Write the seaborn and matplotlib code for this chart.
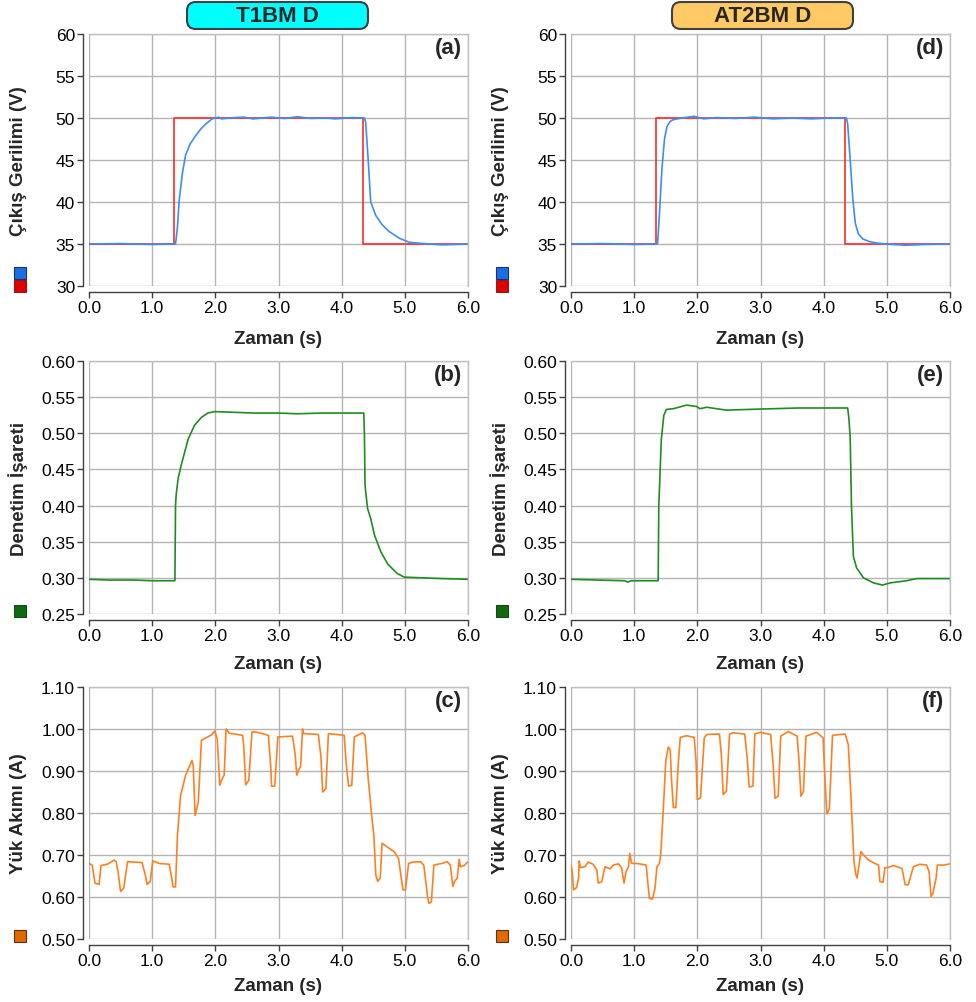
import numpy as np
import pandas as pd
import matplotlib.pyplot as plt
import seaborn as sns
from matplotlib.patches import FancyBboxPatch

# Reference voltage (step)
ref_t = [0.0, 1.35, 1.35, 4.34, 4.34, 6.0]
ref_v = [35, 35, 50, 50, 35, 35]

# (a) T1BMD output voltage
va_t = [0.0, 0.5, 1.0, 1.37, 1.40, 1.43, 1.48, 1.53, 1.60, 1.69, 1.77, 1.85, 1.95, 2.05, 2.1, 2.3, 2.45, 2.6, 2.88, 3.1,
        3.3, 3.5, 3.75, 3.9, 4.17, 4.36, 4.38, 4.42, 4.46, 4.50, 4.54, 4.64, 4.75, 4.91, 5.07, 5.3, 5.6, 6.0]
va_v = [35.0, 35.05, 34.95, 35.0, 37.0, 40.4, 43.5, 45.6, 46.9, 47.9, 48.7, 49.3, 49.9, 50.1, 49.9, 50.05, 50.1, 49.9, 50.1, 49.95,
        50.15, 49.95, 50.0, 49.9, 50.05, 50.0, 49.5, 45.0, 40.0, 39.2, 38.4, 37.3, 36.5, 35.7, 35.2, 35.05, 34.9, 35.0]

# (d) AT2BMD output voltage
vd_t = [0.0, 0.5, 1.0, 1.37, 1.40, 1.44, 1.48, 1.52, 1.57, 1.62, 1.75, 1.95, 2.1, 2.3, 2.6, 2.9, 3.2, 3.5, 3.8, 4.1,
        4.36, 4.38, 4.42, 4.46, 4.50, 4.55, 4.62, 4.72, 4.85, 5.0, 5.3, 5.6, 6.0]
vd_v = [35.0, 35.05, 34.95, 35.0, 38.5, 44.0, 47.5, 49.0, 49.6, 49.8, 50.0, 50.2, 49.9, 50.05, 49.95, 50.1, 49.9, 50.0, 49.9, 50.0,
        50.0, 49.3, 45.0, 40.5, 37.5, 36.2, 35.6, 35.3, 35.1, 35.0, 34.85, 34.95, 35.0]

# (b) T1BMD control signal
ub_t = [0.0, 0.3, 0.7, 1.0, 1.36, 1.37, 1.38, 1.41, 1.46, 1.57, 1.67, 1.78, 1.88, 1.99, 2.3, 2.6, 3.0, 3.3, 3.7, 4.0,
        4.35, 4.36, 4.37, 4.41, 4.46, 4.52, 4.62, 4.73, 4.88, 4.99, 5.3, 5.6, 6.0]
ub_v = [0.298, 0.297, 0.297, 0.296, 0.296, 0.400, 0.415, 0.437, 0.456, 0.492, 0.511, 0.522, 0.528, 0.530, 0.529, 0.528, 0.528, 0.527, 0.528, 0.528,
        0.528, 0.500, 0.428, 0.396, 0.382, 0.359, 0.336, 0.319, 0.306, 0.301, 0.300, 0.299, 0.298]

# (e) AT2BMD control signal
ue_t = [0.0, 0.4, 0.85, 0.9, 0.95, 1.38, 1.39, 1.43, 1.47, 1.51, 1.62, 1.83, 1.99, 2.04, 2.15, 2.46, 2.8, 3.2, 3.6, 4.0,
        4.38, 4.40, 4.42, 4.44, 4.47, 4.52, 4.63, 4.79, 4.93, 5.05, 5.31, 5.47, 6.0]
ue_v = [0.298, 0.297, 0.296, 0.294, 0.296, 0.296, 0.400, 0.492, 0.525, 0.533, 0.534, 0.539, 0.537, 0.534, 0.536, 0.532, 0.533, 0.534, 0.535, 0.535,
        0.535, 0.520, 0.494, 0.400, 0.330, 0.314, 0.300, 0.293, 0.290, 0.293, 0.296, 0.299, 0.299]

# (c) T1BMD load current
ic_t = [0.0, 0.05, 0.095, 0.16, 0.19, 0.29, 0.40, 0.43, 0.46, 0.50, 0.55, 0.61, 0.84, 0.89, 0.92, 0.97, 1.01, 1.11, 1.27, 1.31,
        1.33, 1.37, 1.40, 1.45, 1.53, 1.63, 1.65, 1.68, 1.73, 1.78, 1.85, 1.93, 1.99, 2.03, 2.07, 2.11, 2.14, 2.17, 2.22, 2.43,
        2.45, 2.48, 2.53, 2.58, 2.64, 2.84, 2.88, 2.89, 2.94, 2.99, 3.22, 3.26, 3.29, 3.33, 3.35, 3.38, 3.40, 3.63, 3.67, 3.70,
        3.75, 3.79, 4.04, 4.07, 4.11, 4.16, 4.20, 4.33, 4.37, 4.42, 4.48, 4.51, 4.54, 4.57, 4.61, 4.64, 4.75, 4.83, 4.90, 4.93,
        4.97, 5.01, 5.06, 5.12, 5.25, 5.30, 5.36, 5.38, 5.42, 5.46, 5.59, 5.67, 5.72, 5.76, 5.79, 5.83, 5.86, 5.88, 5.94, 6.0]
ic_v = [0.680, 0.676, 0.633, 0.630, 0.675, 0.678, 0.688, 0.684, 0.660, 0.613, 0.621, 0.684, 0.682, 0.653, 0.630, 0.637, 0.686, 0.680, 0.678, 0.645,
        0.624, 0.624, 0.747, 0.842, 0.890, 0.925, 0.913, 0.794, 0.826, 0.973, 0.979, 0.985, 0.995, 0.977, 0.866, 0.882, 0.890, 1.000, 0.990, 0.985,
        0.960, 0.867, 0.878, 0.993, 0.993, 0.985, 0.905, 0.864, 0.864, 0.981, 0.983, 0.945, 0.890, 0.906, 0.910, 1.000, 0.989, 0.987, 0.937, 0.850,
        0.858, 0.989, 0.985, 0.921, 0.864, 0.866, 0.981, 0.991, 0.985, 0.882, 0.787, 0.747, 0.653, 0.637, 0.645, 0.728, 0.716, 0.708, 0.692, 0.660,
        0.617, 0.617, 0.680, 0.683, 0.684, 0.676, 0.601, 0.585, 0.588, 0.676, 0.680, 0.684, 0.676, 0.625, 0.638, 0.645, 0.690, 0.672, 0.675, 0.684]

# (f) AT2BMD load current
if_t = [0.0, 0.02, 0.04, 0.09, 0.12, 0.13, 0.15, 0.22, 0.27, 0.35, 0.41, 0.43, 0.49, 0.52, 0.54, 0.62, 0.67, 0.75, 0.80, 0.84,
        0.87, 0.91, 0.93, 0.96, 1.04, 1.19, 1.21, 1.24, 1.29, 1.33, 1.36, 1.40, 1.42, 1.46, 1.50, 1.54, 1.57, 1.59, 1.62, 1.66,
        1.70, 1.73, 1.83, 1.95, 1.98, 2.00, 2.05, 2.11, 2.15, 2.35, 2.38, 2.41, 2.46, 2.51, 2.57, 2.75, 2.79, 2.82, 2.88, 2.91,
        2.99, 3.16, 3.20, 3.23, 3.28, 3.32, 3.44, 3.58, 3.61, 3.64, 3.68, 3.72, 3.89, 3.99, 4.02, 4.05, 4.09, 4.14, 4.34, 4.39,
        4.43, 4.48, 4.51, 4.53, 4.56, 4.59, 4.63, 4.71, 4.81, 4.87, 4.89, 4.94, 4.97, 5.02, 5.10, 5.24, 5.29, 5.34, 5.42, 5.52,
        5.63, 5.67, 5.70, 5.73, 5.78, 5.80, 5.90, 6.0]
if_v = [0.676, 0.660, 0.617, 0.623, 0.645, 0.686, 0.670, 0.672, 0.683, 0.678, 0.664, 0.633, 0.637, 0.660, 0.672, 0.667, 0.676, 0.679, 0.670, 0.633,
        0.660, 0.672, 0.704, 0.680, 0.680, 0.676, 0.645, 0.597, 0.595, 0.621, 0.672, 0.680, 0.700, 0.805, 0.923, 0.957, 0.951, 0.884, 0.813, 0.813,
        0.923, 0.980, 0.984, 0.980, 0.923, 0.832, 0.836, 0.979, 0.987, 0.988, 0.939, 0.844, 0.852, 0.988, 0.991, 0.988, 0.931, 0.862, 0.864, 0.988,
        0.992, 0.987, 0.915, 0.835, 0.840, 0.983, 0.994, 0.983, 0.923, 0.840, 0.852, 0.983, 0.992, 0.979, 0.884, 0.798, 0.809, 0.985, 0.988, 0.963,
        0.844, 0.684, 0.653, 0.645, 0.676, 0.708, 0.700, 0.688, 0.680, 0.676, 0.637, 0.635, 0.670, 0.670, 0.675, 0.668, 0.629, 0.629, 0.672, 0.678,
        0.676, 0.660, 0.601, 0.609, 0.645, 0.676, 0.676, 0.679]

x_ticks = [0, 1, 2, 3, 4, 5, 6]
volt_ticks = [30, 35, 40, 45, 50, 55, 60]
ctrl_ticks = [0.25, 0.30, 0.35, 0.40, 0.45, 0.50, 0.55, 0.60]
curr_ticks = [0.50, 0.60, 0.70, 0.80, 0.90, 1.00, 1.10]

sns.set_style("white")
plt.rcParams['font.family'] = ['Liberation Sans', 'DejaVu Sans']

C_REF = '#ff2a2a'
C_OUT = '#3a8ef6'
C_CTRL = '#1f8c1f'
C_CURR = '#ff8020'

fig = plt.figure(figsize=(9.76, 10.03), dpi=100)

col_left = [89 / 976, 571 / 976]
ax_w = 379 / 976
rows = [(1 - 287 / 1003, 252 / 1003), (1 - 615 / 1003, 253 / 1003), (1 - 940 / 1003, 252 / 1003)]
xlab_y = [-0.175, -0.163, -0.151]


def style_axis(ax, yticks, fmt, ylabel, letter, row):
    ax.set_xlim(0, 6)
    ax.set_ylim(yticks[0], yticks[-1])
    ax.set_xticks(x_ticks)
    ax.set_xticklabels([f"{t:.1f}" for t in x_ticks])
    ax.set_yticks(yticks)
    ax.set_yticklabels([fmt.format(t) for t in yticks])
    ax.grid(True, color='#b4b4b4', lw=1.0)
    ax.set_axisbelow(True)
    for s in ['top', 'right']:
        ax.spines[s].set_color('#c0c0c0')
        ax.spines[s].set_linewidth(1.0)
    for s in ['left', 'bottom']:
        ax.spines[s].set_color('#404040')
        ax.spines[s].set_linewidth(1.0)
        ax.spines[s].set_position(('outward', 4))
    ax.tick_params(axis='both', direction='out', length=4, width=1, color='#404040',
                   labelsize=12.5, pad=2, labelcolor='black')
    ax.tick_params(axis='both', which='both', bottom=True, left=True)
    ax.set_xlabel("Zaman (s)", fontsize=13.5, fontweight='bold')
    ax.xaxis.set_label_coords(0.5, xlab_y[row])
    ax.set_ylabel(ylabel, fontsize=13.5, fontweight='bold', va='center')
    ax.yaxis.set_label_coords(-0.187, 0.5)
    ax.text(0.985, 0.948, letter, transform=ax.transAxes, ha='right', va='center',
            fontsize=16, fontweight='bold')


def line(ax, t, v, color):
    df = pd.DataFrame({"t": t, "v": v})
    sns.lineplot(data=df, x="t", y="v", ax=ax, color=color, lw=1.2, sort=False, estimator=None)


def square(ax, y, color, edge):
    ax.plot([-0.182], [y], marker='s', ms=8, color=color, mec=edge, mew=0.8,
            transform=ax.transAxes, clip_on=False, ls='none')


volt_sets = [(va_t, va_v, '(a)'), (vd_t, vd_v, '(d)')]
ctrl_sets = [(ub_t, ub_v, '(b)'), (ue_t, ue_v, '(e)')]
curr_sets = [(ic_t, ic_v, '(c)'), (if_t, if_v, '(f)')]

for c in range(2):
    # voltage row
    ax = fig.add_axes([col_left[c], rows[0][0], ax_w, rows[0][1]])
    line(ax, ref_t, ref_v, C_REF)
    line(ax, volt_sets[c][0], volt_sets[c][1], C_OUT)
    style_axis(ax, volt_ticks, "{:.0f}", "Çıkış Gerilimi (V)", volt_sets[c][2], 0)
    square(ax, 0.052, '#1a6ee8', '#203060')
    square(ax, 0.0, '#e00000', '#802020')

    # control row
    ax = fig.add_axes([col_left[c], rows[1][0], ax_w, rows[1][1]])
    line(ax, ctrl_sets[c][0], ctrl_sets[c][1], C_CTRL)
    style_axis(ax, ctrl_ticks, "{:.2f}", "Denetim İşareti", ctrl_sets[c][2], 1)
    square(ax, 0.012, '#0d6b0d', '#204020')

    # current row
    ax = fig.add_axes([col_left[c], rows[2][0], ax_w, rows[2][1]])
    line(ax, curr_sets[c][0], curr_sets[c][1], C_CURR)
    style_axis(ax, curr_ticks, "{:.2f}", "Yük Akımı (A)", curr_sets[c][2], 2)
    square(ax, 0.012, '#e06a00', '#603010')

# header boxes
headers = [("T1BM D", 187, '#00ffff'), ("AT2BM D", 672, '#ffc966')]
for txt, x0, fc in headers:
    box = FancyBboxPatch((x0 / 976, 1 - 30 / 1003), 181 / 976, 27 / 1003,
                         boxstyle="round,pad=0,rounding_size=0.009",
                         mutation_aspect=976 / 1003,
                         transform=fig.transFigure, fc=fc, ec='#404040', lw=1.5)
    fig.patches.append(box)
    fig.text((x0 + 90.5) / 976, 1 - 16.5 / 1003, txt, ha='center', va='center',
             fontsize=16, fontweight='bold')

fig.savefig("out.png", dpi=100)
